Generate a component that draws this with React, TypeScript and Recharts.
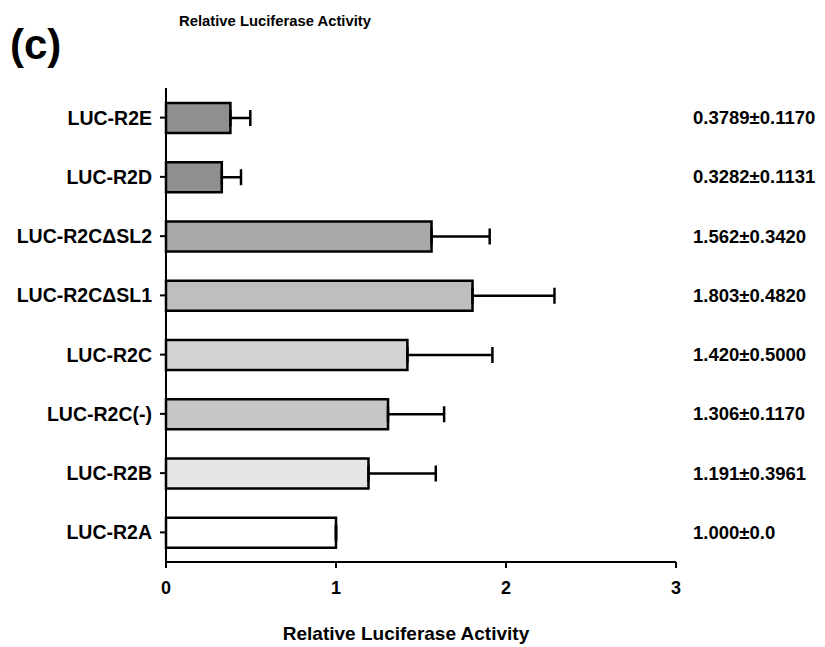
import React from 'react';
import {
  Bar,
  BarChart,
  Cell,
  ErrorBar,
  XAxis,
  YAxis
} from 'recharts';

const FONT = '"Liberation Sans", Arial, Helvetica, sans-serif';

const categories = [
  'LUC-R2E',
  'LUC-R2D',
  'LUC-R2CΔSL2',
  'LUC-R2CΔSL1',
  'LUC-R2C',
  'LUC-R2C(-)',
  'LUC-R2B',
  'LUC-R2A'
];
const means = [0.3789, 0.3282, 1.562, 1.803, 1.42, 1.306, 1.191, 1.0];
// error bar lengths as drawn in the figure
const errors = [0.117, 0.113, 0.342, 0.482, 0.5, 0.33, 0.396, 0];
const annotations = [
  '0.3789±0.1170',
  '0.3282±0.1131',
  '1.562±0.3420',
  '1.803±0.4820',
  '1.420±0.5000',
  '1.306±0.1170',
  '1.191±0.3961',
  '1.000±0.0'
];
const fills = ['#8f8f8f', '#8f8f8f', '#a9a9a9', '#bebebe', '#d4d4d4', '#c6c6c6', '#e6e6e6', '#ffffff'];
const xTicks = [0, 1, 2, 3];

const data = categories.map((name, i) => ({
  name,
  value: means[i],
  err: [0, errors[i]]
}));

const annotationFor = (name: string) => annotations[categories.indexOf(name)] ?? '';

export default function App() {
  return (
    <div style={{ position: 'absolute', left: 0, top: 0, width: 825, height: 647, background: '#fff', fontFamily: FONT }}>
      <svg width={825} height={80} style={{ position: 'absolute', left: 0, top: 0 }}>
        <text x={275} y={26} textAnchor="middle" fontSize={14.8} fontWeight="bold" fill="#000" fontFamily={FONT}>
          Relative Luciferase Activity
        </text>
        <text x={10} y={59} fontSize={42} fontWeight="bold" fill="#000" fontFamily={FONT}>
          (c)
        </text>
      </svg>
      <BarChart
        width={825}
        height={647}
        data={data}
        layout="vertical"
        margin={{ top: 88, right: 0, bottom: 0, left: 0 }}
        style={{ position: 'absolute', left: 0, top: 0 }}
      >
        <XAxis
          type="number"
          domain={[0, 3]}
          ticks={xTicks}
          height={85}
          axisLine={{ stroke: '#000', strokeWidth: 2 }}
          tickLine={{ stroke: '#000', strokeWidth: 2 }}
          tickSize={6}
          tickMargin={13}
          tick={{ fill: '#000', fontSize: 18, fontWeight: 'bold', fontFamily: FONT }}
          label={{
            value: 'Relative Luciferase Activity',
            position: 'insideBottom',
            offset: 7,
            dx: -15,
            fill: '#000',
            fontSize: 19,
            fontWeight: 'bold',
            fontFamily: FONT
          }}
        />
        <YAxis
          yAxisId="left"
          type="category"
          dataKey="name"
          width={166}
          axisLine={{ stroke: '#000', strokeWidth: 2 }}
          tickLine={{ stroke: '#000', strokeWidth: 2 }}
          tickSize={6}
          tickMargin={8}
          tick={{ fill: '#000', fontSize: 19.5, fontWeight: 'bold', fontFamily: FONT }}
          interval={0}
        />
        <YAxis
          yAxisId="right"
          orientation="right"
          type="category"
          dataKey="name"
          width={149}
          axisLine={false}
          tickLine={false}
          tickSize={6}
          tickMargin={11}
          tickFormatter={annotationFor}
          tick={{ fill: '#000', fontSize: 18.5, fontWeight: 'bold', fontFamily: FONT, textAnchor: 'start' }}
          interval={0}
        />
        <Bar
          yAxisId="left"
          dataKey="value"
          barSize={30}
          stroke="#000"
          strokeWidth={2.5}
          isAnimationActive={false}
        >
          {data.map((entry, index) => (
            <Cell key={`cell-${index}`} fill={fills[index % fills.length]} />
          ))}
          <ErrorBar dataKey="err" direction="x" width={8} stroke="#000" strokeWidth={2.5} isAnimationActive={false} />
        </Bar>
      </BarChart>
    </div>
  );
}
